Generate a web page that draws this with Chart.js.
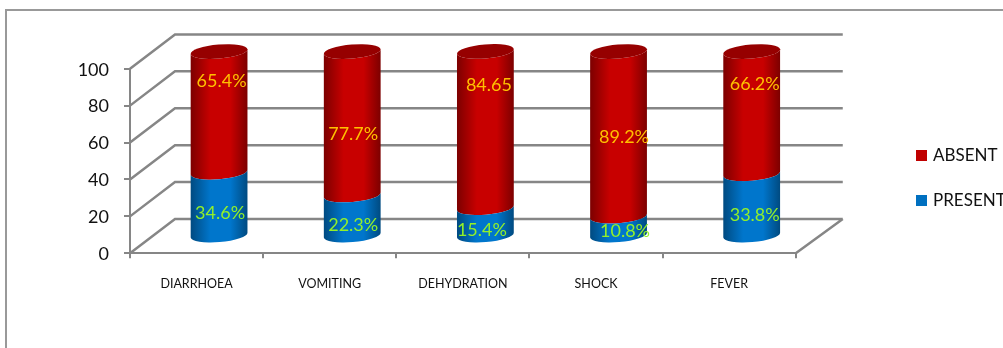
<!DOCTYPE html>
<html>
<head>
<meta charset="utf-8">
<style>
html,body{margin:0;padding:0;background:#fff;overflow:hidden}
canvas{display:block}
</style>
<script src="https://cdn.jsdelivr.net/npm/chart.js@4/dist/chart.umd.js"></script>
</head>
<body>
<canvas id="c" width="1003" height="348"></canvas>
<script>
const categories = ['DIARRHOEA', 'VOMITING', 'DEHYDRATION', 'SHOCK', 'FEVER'];
const present = [34.6, 22.3, 15.4, 10.8, 33.8];
const absent = [65.4, 77.7, 84.65, 89.2, 66.2];
const presentLabels = ['34.6%', '22.3%', '15.4%', '10.8%', '33.8%'];
const absentLabels = ['65.4%', '77.7%', '84.65', '89.2%', '66.2%'];
// Hand placement of the value labels: axis height and sideways shift in pixels
const presentLabelAt = [22, 15, 12.5, 12, 20.5];
const absentLabelAt = [93.5, 64.5, 91, 63, 91.5];
const presentLabelShift = [1, 1, -3.5, 6.5, 3];
const absentLabelShift = [2.5, 1, 3.5, 5.5, 3];

const DEPTH_X = 45, DEPTH_Y = 34.3;
const GRID = '#868686';
const SHADES = {
  '#C00000': { edge: '#7c0000', mid: '#c80000', cap: '#960000' },
  '#0070C0': { edge: '#004a80', mid: '#0076cc' }
};

// Bars are cylinders standing halfway into the floor's depth
Chart.BarElement.prototype.draw = function (ctx) {
  const { x, y, base, width } = this.getProps(['x', 'y', 'base', 'width'], true);
  const shade = SHADES[this.options.backgroundColor];
  const cx = x + DEPTH_X / 2, a = width / 2, b = 7, tilt = -0.085;
  const top = y - DEPTH_Y / 2, bottom = base - DEPTH_Y / 2;
  const fill = ctx.createLinearGradient(cx - a, 0, cx + a, 0);
  fill.addColorStop(0, shade.edge);
  fill.addColorStop(0.35, shade.mid);
  fill.addColorStop(0.7, shade.mid);
  fill.addColorStop(1, shade.edge);
  ctx.save();
  ctx.fillStyle = fill;
  ctx.beginPath();
  ctx.ellipse(cx, bottom, a, b, tilt, 0, Math.PI, false);
  ctx.ellipse(cx, top, a, b, tilt, Math.PI, 0, true);
  ctx.closePath();
  ctx.fill();
  if (shade.cap) {
    ctx.fillStyle = shade.cap;
    ctx.beginPath();
    ctx.ellipse(cx, top, a, b, tilt, 0, Math.PI * 2);
    ctx.fill();
  }
  ctx.restore();
};

// Outer frame and the three walls of the box behind the bars
const wallsPlugin = {
  id: 'walls',
  beforeDatasetsDraw(chart) {
    const { ctx, chartArea: area, scales: { y } } = chart;
    ctx.save();
    ctx.strokeStyle = '#999999';
    ctx.lineWidth = 2;
    ctx.beginPath();
    ctx.moveTo(6, 348);
    ctx.lineTo(6, 10);
    ctx.lineTo(1003, 10);
    ctx.stroke();
    ctx.strokeStyle = GRID;
    ctx.lineWidth = 2.5;
    ctx.beginPath();
    y.ticks.forEach(t => {
      const py = y.getPixelForValue(t.value);
      ctx.moveTo(area.left, py);
      ctx.lineTo(area.left + DEPTH_X, py - DEPTH_Y);
      ctx.lineTo(area.right + DEPTH_X + 2, py - DEPTH_Y);
    });
    ctx.moveTo(area.right, area.bottom);
    ctx.lineTo(area.right + DEPTH_X + 2, area.bottom - DEPTH_Y);
    ctx.stroke();
    ctx.restore();
  },
  afterDatasetsDraw(chart) {
    const { ctx, scales: { x, y } } = chart;
    ctx.save();
    ctx.font = '18px Lato';
    ctx.textAlign = 'center';
    ctx.textBaseline = 'middle';
    categories.forEach((_, i) => {
      const px = x.getPixelForValue(i) + DEPTH_X / 2;
      ctx.fillStyle = '#FFC000';
      ctx.fillText(absentLabels[i], px + absentLabelShift[i], y.getPixelForValue(absentLabelAt[i]));
      ctx.fillStyle = '#92F02A';
      ctx.fillText(presentLabels[i], px + presentLabelShift[i], y.getPixelForValue(presentLabelAt[i]));
    });
    ctx.restore();
  },
  // The key sits in the right margin, running up to the page edge
  beforeDraw(chart) {
    const legend = chart.legend;
    legend.left = 890.5; legend.right = 1090;
    legend.top = 119; legend.bottom = 348;
  }
};

new Chart(document.getElementById('c'), {
  type: 'bar',
  data: {
    labels: categories,
    datasets: [
      { label: 'PRESENT', data: present, backgroundColor: '#0070C0', clip: false },
      { label: 'ABSENT', data: absent, backgroundColor: '#C00000', clip: false }
    ]
  },
  options: {
    responsive: false,
    animation: false,
    devicePixelRatio: 1,
    categoryPercentage: 1,
    barPercentage: 0.428,
    layout: { padding: { left: 0, top: 68.7, right: 82, bottom: 0 } },
    plugins: {
      tooltip: { enabled: false },
      legend: {
        position: 'right',
        align: 'start',
        reverse: true,
        labels: {
          usePointStyle: true, pointStyle: 'rect',
          boxWidth: 6, boxHeight: 11, padding: 28,
          color: '#111111',
          font: { family: 'Lato', size: 17 }
        }
      }
    },
    scales: {
      x: {
        stacked: true,
        afterFit(s) { s.height = 94.7; },
        border: { color: GRID, width: 2 },
        grid: { drawOnChartArea: false, color: GRID, lineWidth: 2, tickLength: 5 },
        ticks: { color: '#111111', font: { family: 'Lato', size: 12.5 }, padding: 18, maxRotation: 0 }
      },
      y: {
        stacked: true,
        min: 0, max: 100,
        afterFit(s) { s.width = 130; },
        border: { color: GRID, width: 2 },
        grid: { drawOnChartArea: false, color: GRID, lineWidth: 2, tickLength: 6 },
        ticks: { stepSize: 20, color: '#111111', font: { family: 'Lato', size: 18 }, padding: 15, labelOffset: 1 }
      }
    }
  },
  plugins: [wallsPlugin]
});
</script>
</body>
</html>
